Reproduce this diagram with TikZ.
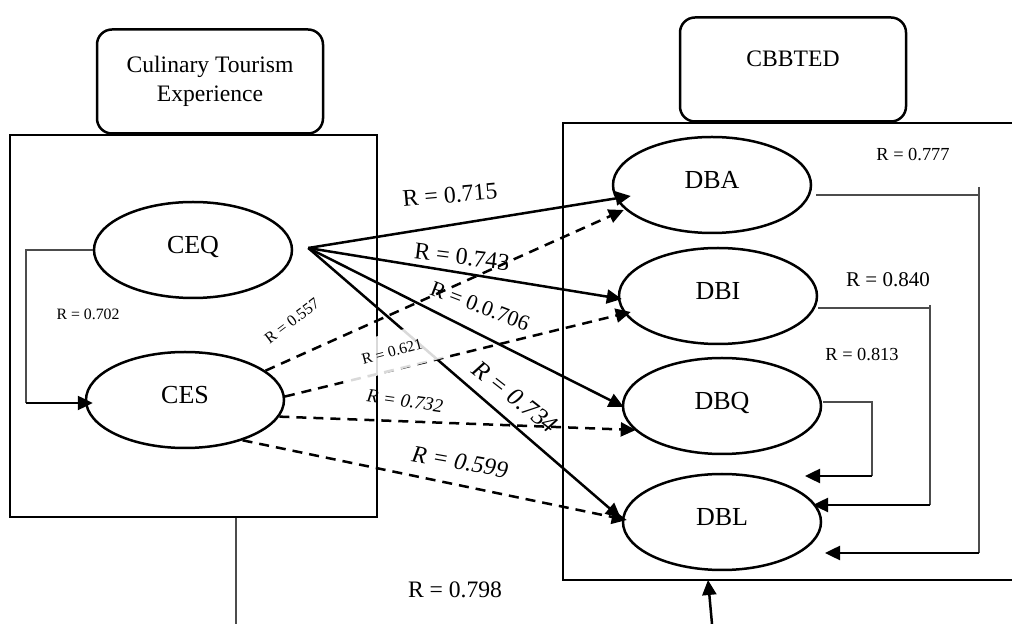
\documentclass[tikz,border=0pt]{standalone}
\usepackage{fontspec}
\setmainfont{Liberation Serif}
\usetikzlibrary{shapes.geometric}
\usetikzlibrary{arrows.meta}

\begin{document}
\begin{tikzpicture}[x=0.5pt,y=-0.5pt,
  latent/.style={draw,ellipse,line width=1.25pt,minimum width=99pt,minimum height=48pt,inner sep=0pt,text depth=5pt,font=\fontsize{13}{15}\selectfont},
  title/.style={draw,rounded corners=7.5pt,line width=1.25pt,minimum width=113pt,minimum height=52pt,align=center,font=\fontsize{11.8}{14.5}\selectfont},
  frame/.style={draw,line width=1.25pt,inner sep=0pt},
  effect/.style={line width=1.25pt,-{Triangle[length=7.5pt,width=7pt]}},
  weakeffect/.style={effect,dash pattern=on 5pt off 3.5pt},
  back/.style={line width=0.65pt,draw=black!70},
  coef/.style={inner sep=0pt,font=\fontsize{#1}{#1}\selectfont}]

\useasboundingbox (0,0) rectangle (1012,624);

% experience block
\node (cte) [frame, minimum width=183.5pt, minimum height=191pt] at (193.5,326) {};
\node (ctehead) [title] at (210,81.5) {Culinary Tourism\\Experience};
\node (ceq) [latent] at (193,250) {CEQ};
\node (ces) [latent] at (185,400) {CES};

% destination block
\draw [line width=1.25pt] (1012,123) -| (563,580) -- (1012,580);
\coordinate (cbbin) at (708,580);
\node (cbbted) [title, text depth=10.5pt] at (793,69.5) {CBBTED};
\node (dba) [latent] at (712,185) {DBA};
\node (dbi) [latent] at (718,296) {DBI};
\node (dbq) [latent] at (722,406) {DBQ};
\node (dbl) [latent] at (722,522) {DBL};

% CEQ -> CES
\coordinate (ceqleft) at (26,250);
\coordinate (cesleft) at (26,403);
\draw [back] (ceq.west) -- (ceqleft) -- (cesleft);
\draw [effect] (cesleft) -- ([shift={(8,3)}]ces.west);

% CEQ -> destination
\coordinate (ceqout) at ([shift={(15,-2)}]ceq.east);
\draw [effect] (ceqout) -- ([shift={(19,11)}]dba.west);
\draw [effect] (ceqout) -- ([shift={(4,3)}]dbi.west);
\draw [effect] (ceqout) -- ([shift={(2,1)}]dbq.west);
\draw [effect] (ceqout) -- ([shift={(-1,-4)}]dbl.west);

% CES -> destination
\draw [weakeffect] (ces.20) -- ([shift={(12,25)}]dba.west);
\draw [weakeffect] (ces.2) -- ([shift={(13,16)}]dbi.west);
\draw [weakeffect] (ces.-10) -- ([shift={(14,24)}]dbq.west);
\draw [weakeffect] (ces.-35) -- ([shift={(5,-2)}]dbl.west);

% inside destination
\coordinate (dbaout) at ([shift={(4,10)}]dba.east);
\coordinate (dbarail) at (979,187);
\coordinate (dbaend) at (979,553);
\draw [back] (dbaout) -- (dbaout -| dbarail);
\draw [back] (dbarail) -- (dbaend);
\draw [effect] (dbaend) -- ([shift={(103,31)}]dbl.center);

\coordinate (dbiout) at ([shift={(0,12)}]dbi.east);
\coordinate (dbirail) at (930,305);
\coordinate (dbiend) at (930,505);
\draw [back] (dbiout) -- (dbiout -| dbirail);
\draw [back] (dbirail) -- (dbiend);
\draw [effect] (dbiend) -- ([shift={(91,-17)}]dbl.center);

\coordinate (dbqout) at ([shift={(1,-4)}]dbq.east);
\coordinate (dbqend) at (872,476);
\draw [back] (dbqout) -| (dbqend);
\draw [effect] (dbqend) -- ([shift={(83,-46)}]dbl.center);

% experience -> destination
\coordinate (ctedown) at (236,624);
\coordinate (cbbup) at (712,624);
\draw [back] (cte.south -| ctedown) -- (ctedown);
\draw [effect] (cbbup) -- (cbbin);

% values
\node (r702) [coef=7.9] at (88,314) {R = 0.702};
\node (r715) [coef=11.9, rotate=5] at (450,195) {R = 0.715};
\node (r743) [coef=12, rotate=-7] at (462,257) {R = 0.743};
\node (r706) [coef=11, rotate=-21] at (480,306) {R = 0.0.706};
\node (r734) [coef=12.5, rotate=-38] at (515,397) {\itshape R = 0.734};
\node (r599) [coef=12, rotate=-10] at (460,462) {\itshape R = 0.599};
\node (r732) [coef=9.5, rotate=-8] at (405,401) {\itshape R = 0.732};
\node (r557) [coef=8, rotate=37] at (292,321) {R = 0.557};
\node (r621) [coef=7.8, rotate=15, fill=white, fill opacity=0.85, text opacity=1, minimum width=55pt, minimum height=19pt] at (392,352) {R = 0.621};
\node (r777) [coef=9.2] at (913,155) {R = 0.777};
\node (r840) [coef=10.5] at (888,280) {R = 0.840};
\node (r813) [coef=9.2] at (862,355) {R = 0.813};
\node (r798) [coef=11.8] at (455,590) {R = 0.798};

\end{tikzpicture}
\end{document}
